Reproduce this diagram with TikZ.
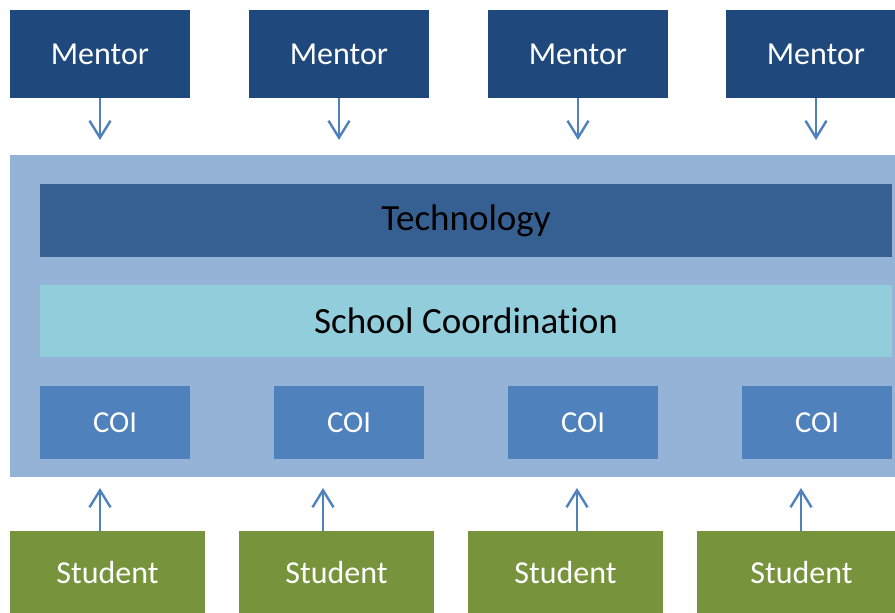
\documentclass[tikz,border=0pt]{standalone}
\usepackage{fontspec}
\setmainfont{Carlito}[Ligatures=NoCommon]
\usetikzlibrary{arrows.meta}
\definecolor{mentorc}{HTML}{1F497D}
\definecolor{panelc}{HTML}{95B3D7}
\definecolor{techc}{HTML}{366092}
\definecolor{schoolc}{HTML}{92CDDC}
\definecolor{coic}{HTML}{4F81BD}
\definecolor{studc}{HTML}{77933C}
\definecolor{arrc}{HTML}{4F81BD}
\tikzset{
  box/.style={inner sep=0pt, outer sep=0pt, draw=none, align=center},
  mentorbox/.style={box, fill=mentorc, text=white, minimum width=180pt, minimum height=88pt, font=\fontsize{32}{36}\selectfont},
  coibox/.style={box, fill=coic, text=white, minimum width=150pt, minimum height=73pt, font=\fontsize{30.5}{36}\selectfont},
  studbox/.style={box, fill=studc, text=white, minimum width=195pt, minimum height=84pt, font=\fontsize{32}{36}\selectfont},
  barbox/.style={box, text=black, minimum width=852pt, font=\fontsize{37}{40}\selectfont},
  arr/.style={draw=arrc, line width=2.4pt, -{Straight Barb[length=17pt,width=21pt]}},
}
\begin{document}
\begin{tikzpicture}[x=1pt,y=-1pt]
\useasboundingbox (0,0) rectangle (895,613);
% panel
\node[box, fill=panelc, minimum width=896pt, minimum height=322pt] (panel) at (458,316) {};
\node[barbox, fill=techc, minimum height=73pt] (tech) at (466,220.5) {Technology};
\node[barbox, fill=schoolc, minimum height=72pt] (school) at (466,321) {School Coordination};
% COI
\node[coibox] (c1) at (115,422.5) {COI};
\node[coibox] (c2) at (349,422.5) {COI};
\node[coibox] (c3) at (583,422.5) {COI};
\node[coibox] (c4) at (817,422.5) {COI};
% mentors
\node[mentorbox] (m1) at (100,54) {Mentor};
\node[mentorbox] (m2) at (339,54) {Mentor};
\node[mentorbox] (m3) at (578,54) {Mentor};
\node[mentorbox] (m4) at (816,54) {Mentor};
% students
\node[studbox] (s1) at (107.5,573) {Student};
\node[studbox] (s2) at (336.5,573) {Student};
\node[studbox] (s3) at (565.5,573) {Student};
\node[studbox, minimum width=209pt] (s4) at (801.5,573) {Student};
% arrow tips
\coordinate (d1) at (100,140);
\coordinate (d2) at (339,140);
\coordinate (d3) at (578,140);
\coordinate (d4) at (816,140);
\coordinate (u1) at (100,488);
\coordinate (u2) at (323,488);
\coordinate (u3) at (577,488);
\coordinate (u4) at (801,488);
\foreach \i in {1,2,3,4} {
  \draw[arr] (m\i.south) -- (d\i);
  \draw[arr] (s\i.north -| u\i) -- (u\i);
}
\end{tikzpicture}
\end{document}
